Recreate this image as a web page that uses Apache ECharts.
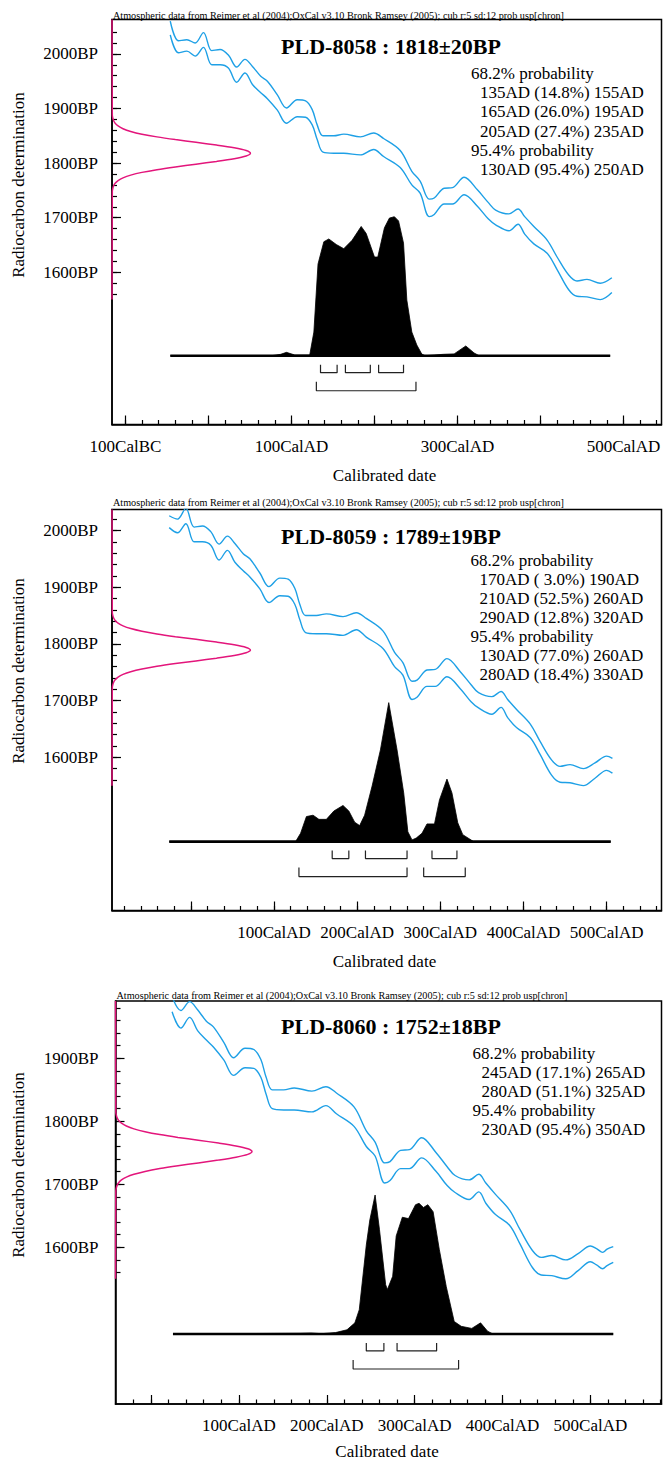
<!DOCTYPE html>
<html><head><meta charset="utf-8">
<script src="https://cdn.jsdelivr.net/npm/echarts@6/dist/echarts.min.js"></script>
<style>html,body{margin:0;padding:0;background:#fff}#c{width:664px;height:1461px}</style>
</head><body><div id="c"></div>
<script>
// ---------------- DATA ----------------
const headerText = 'Atmospheric data from Reimer et al (2004);OxCal v3.10 Bronk Ramsey (2005); cub r:5 sd:12 prob usp[chron]';

// calibration curve (IntCal04, +/- 1 sigma), calendar year AD (negative = BC), BP
const calYears = [-46,-36,-26,-16,-6,4,14,24,34,44,53,63,71,83,94,107,117,125,131,138,151,163,183,199,211,231,245,255,266,272,284,294,308,324,337,346,362,373,381,392,408,420,434,444,456,472,486,500,507,514,519,526];
const calUpper = [2060,2024,2026,2020,2039,2006,2008,1998,1976,1990,1977,1959,1950,1925,1901,1916,1914,1898,1870,1850,1850,1853,1848,1855,1845,1823,1785,1767,1734,1736,1754,1755,1774,1751,1728,1714,1707,1716,1702,1684,1659,1628,1595,1584,1587,1580,1590,1602,1598,1592,1597,1601];
const calLower = [2035,2002,2005,1996,2012,1980,1980,1974,1948,1965,1944,1929,1918,1897,1873,1885,1884,1870,1843,1820,1818,1818,1815,1825,1812,1792,1760,1745,1702,1706,1725,1725,1742,1721,1698,1687,1676,1688,1670,1652,1635,1605,1568,1556,1555,1550,1563,1577,1572,1566,1571,1576];

// normal-curve profile heights (relative) used for the radiocarbon determinations
const gaussHeights = [0.0022,0.0051,0.0111,0.0228,0.0439,0.0796,0.1353,0.2163,0.3247,0.4578,0.6065,0.7548,0.8825,0.9692,1,0.9692,0.8825,0.7548,0.6065,0.4578,0.3247,0.2163,0.1353,0.0796,0.0439,0.0228,0.0111,0.0051,0.0022];

// ---- PLD-8058
const p1Title = 'PLD-8058 : 1818±20BP';
const p1GaussBP = [1748,1753,1758,1763,1768,1773,1778,1783,1788,1793,1798,1803,1808,1813,1818,1823,1828,1833,1838,1843,1848,1853,1858,1863,1868,1873,1878,1883,1888];
const p1DistYears = [-46,76,87,94,104,122,127,132,139,145,154,163,173,184,190,200,204,212,218,224,229,235,239,245,251,257,261,283,296,310,320,326,484];
const p1DistProb  = [0,0,0.01,0.024,0.005,0.005,0.17,0.66,0.82,0.84,0.80,0.77,0.83,0.93,0.88,0.71,0.71,0.92,0.99,1.0,0.97,0.81,0.40,0.17,0.077,0.012,0,0.01,0.013,0.07,0.02,0,0];
const p1Ranges68 = [[135,155],[165,195],[205,235]];
const p1Ranges95 = [[130,250]];
const p1Lines = ['68.2% probability','135AD (14.8%) 155AD','165AD (26.0%) 195AD','205AD (27.4%) 235AD','95.4% probability','130AD (95.4%) 250AD'];
const p1XLabelValues = [-100,100,300,500];
const p1XLabels = ['100CalBC','100CalAD','300CalAD','500CalAD'];
const p1YLabelValues = [1600,1700,1800,1900,2000];
const p1YLabels = ['1600BP','1700BP','1800BP','1900BP','2000BP'];

// ---- PLD-8059
const p2Title = 'PLD-8059 : 1789±19BP';
const p2GaussBP = [1722.5,1727.25,1732,1736.75,1741.5,1746.25,1751,1755.75,1760.5,1765.25,1770,1774.75,1779.5,1784.25,1789,1793.75,1798.5,1803.25,1808,1812.75,1817.5,1822.25,1827,1831.75,1836.5,1841.25,1846,1850.75,1855.5];
const p2DistYears = [-26,126,132,139,147,154,163,172,183,190,197,203,209,218,228,238,248,256,261,266,271,278,284,293,299,308,314,321,327,340,505];
const p2DistProb  = [0,0,0.06,0.18,0.19,0.16,0.16,0.22,0.26,0.22,0.14,0.115,0.19,0.40,0.66,1.0,0.66,0.35,0.07,0.012,0.025,0.06,0.127,0.127,0.30,0.45,0.35,0.135,0.05,0,0];
const p2Ranges68 = [[170,190],[210,260],[290,320]];
const p2Ranges95 = [[130,260],[280,330]];
const p2Lines = ['68.2% probability','170AD ( 3.0%) 190AD','210AD (52.5%) 260AD','290AD (12.8%) 320AD','95.4% probability','130AD (77.0%) 260AD','280AD (18.4%) 330AD'];
const p2XLabelValues = [100,200,300,400,500];
const p2XLabels = ['100CalAD','200CalAD','300CalAD','400CalAD','500CalAD'];
const p2YLabelValues = [1600,1700,1800,1900,2000];
const p2YLabels = ['1600BP','1700BP','1800BP','1900BP','2000BP'];

// ---- PLD-8060
const p3Title = 'PLD-8060 : 1752±18BP';
const p3GaussBP = [1689,1693.5,1698,1702.5,1707,1711.5,1716,1720.5,1725,1729.5,1734,1738.5,1743,1747.5,1752,1756.5,1761,1765.5,1770,1774.5,1779,1783.5,1788,1792.5,1797,1801.5,1806,1810.5,1815];
const p3DistYears = [25,170,182,194,210,223,232,237,245,249,255,260,267,269,275,279,286,293,301,305,310,315,321,328,336,345,353,365,375,383,389,526];
const p3DistProb  = [0,0.005,0.007,0.002,0.01,0.03,0.08,0.175,0.64,0.82,1.0,0.75,0.355,0.32,0.415,0.705,0.84,0.83,0.93,0.94,0.91,0.93,0.88,0.61,0.34,0.09,0.055,0.04,0.08,0.02,0,0];
const p3Ranges68 = [[245,265],[280,325]];
const p3Ranges95 = [[230,350]];
const p3Lines = ['68.2% probability','245AD (17.1%) 265AD','280AD (51.1%) 325AD','95.4% probability','230AD (95.4%) 350AD'];
const p3XLabelValues = [100,200,300,400,500];
const p3XLabels = ['100CalAD','200CalAD','300CalAD','400CalAD','500CalAD'];
const p3YLabelValues = [1600,1700,1800,1900];
const p3YLabels = ['1600BP','1700BP','1800BP','1900BP'];

// ---------------- LAYOUT / STYLE ----------------
const FONT = '"Liberation Serif", "Times New Roman", serif';
const BLUE = '#1ea0e6';
const MAGENTA = '#e3157b';

const panels = [
  {title:p1Title, gauss:p1GaussBP, dy:p1DistYears, dp:p1DistProb, r68:p1Ranges68, r95:p1Ranges95, lines:p1Lines,
   xlv:p1XLabelValues, xl:p1XLabels, ylv:p1YLabelValues, yl:p1YLabels,
   left:112, top:19.5, right:661.5, bottom:424.5, xMin:-116.2, xMax:545.8, bpMin:1321.2, bpMax:2063,
   probMin:-0.495, probMax:2.419, gMax:3.97, xTickFrom:-100, xTickTo:540, yTickFrom:1560, yTickTo:2040,
   headerY:15, titleY:46.7, textX:471, textY:73.3, textDy:19.3, yTitleY:185, xTitleX:384.5, xTitleY:475, yLabMargin:14},
  {title:p2Title, gauss:p2GaussBP, dy:p2DistYears, dp:p2DistProb, r68:p2Ranges68, r95:p2Ranges95, lines:p2Lines,
   xlv:p2XLabelValues, xl:p2XLabels, ylv:p2YLabelValues, yl:p2YLabels,
   left:112, top:509.5, right:661.5, bottom:910.5, xMin:-94.8, xMax:566, bpMin:1329.8, bpMax:2037,
   probMin:-0.496, probMax:2.39, gMax:3.97, xTickFrom:-80, xTickTo:560, yTickFrom:1560, yTickTo:2020,
   headerY:502.7, titleY:536.7, textX:470.5, textY:560.7, textDy:19, yTitleY:671, xTitleX:384.5, xTitleY:961.7, yLabMargin:14},
  {title:p3Title, gauss:p3GaussBP, dy:p3DistYears, dp:p3DistProb, r68:p3Ranges68, r95:p3Ranges95, lines:p3Lines,
   xlv:p3XLabelValues, xl:p3XLabels, ylv:p3YLabelValues, yl:p3YLabels,
   left:115.5, top:1001, right:661.5, bottom:1404, xMin:-40.4, xMax:580.9, bpMin:1351.3, bpMax:1991,
   probMin:-0.504, probMax:2.396, gMax:4.0, xTickFrom:-20, xTickTo:580, yTickFrom:1560, yTickTo:1980,
   headerY:995, titleY:1026.7, textX:472.5, textY:1053.3, textDy:19, yTitleY:1165, xTitleX:387, xTitleY:1451.5, yLabMargin:17}
];
const BR68 = [-0.065,-0.122], BR95 = [-0.187,-0.252];

function range(a,b,s){const r=[];for(let v=a;v<=b+1e-9;v+=s)r.push(v);return r;}

const grid=[], xAxis=[], yAxis=[], series=[], graphic=[];
panels.forEach((P,i)=>{
  grid.push({left:P.left, top:P.top, width:P.right-P.left, height:P.bottom-P.top, show:true,
    borderColor:'#000', borderWidth:1.5, backgroundColor:'rgba(0,0,0,0)'});
  const xMaj = range(P.xTickFrom,P.xTickTo,20).filter(v=>v%100===0);
  const xMin = range(P.xTickFrom,P.xTickTo,20);
  const yMaj = range(P.yTickFrom,P.yTickTo,20).filter(v=>v%100===0);
  const yMin = range(P.yTickFrom,P.yTickTo,20);
  const xlMap = {}; P.xlv.forEach((v,k)=>xlMap[v]=P.xl[k]);
  const ylMap = {}; P.ylv.forEach((v,k)=>ylMap[v]=P.yl[k]);
  // x axes: 3i main, 3i+1 minor ticks, 3i+2 gaussian
  xAxis.push({type:'value', gridIndex:i, position:'bottom', min:P.xMin, max:P.xMax,
    axisLine:{show:true, onZero:false, lineStyle:{color:'#000', width:1.5}},
    axisTick:{show:true, inside:true, length:9, customValues:xMaj, lineStyle:{color:'#000', width:1.2}},
    axisLabel:{show:true, customValues:P.xlv, formatter:v=>xlMap[v]||'', margin:13,
      fontFamily:FONT, fontSize:17, color:'#000'},
    splitLine:{show:false}});
  xAxis.push({type:'value', gridIndex:i, position:'bottom', min:P.xMin, max:P.xMax,
    axisLine:{show:false, onZero:false},
    axisTick:{show:true, inside:true, length:4.5, customValues:xMin, lineStyle:{color:'#000', width:1.2}},
    axisLabel:{show:false}, splitLine:{show:false}});
  xAxis.push({type:'value', gridIndex:i, show:false, min:0, max:P.gMax, splitLine:{show:false}});
  // y axes: 3i BP main, 3i+1 minor ticks, 3i+2 probability
  yAxis.push({type:'value', gridIndex:i, position:'left', min:P.bpMin, max:P.bpMax,
    axisLine:{show:true, onZero:false, lineStyle:{color:'#000', width:1.5}},
    axisTick:{show:true, inside:true, length:9, customValues:yMaj, lineStyle:{color:'#000', width:1.2}},
    axisLabel:{show:true, customValues:P.ylv, formatter:v=>ylMap[v]||'', margin:P.yLabMargin,
      fontFamily:FONT, fontSize:17, color:'#000'},
    splitLine:{show:false}});
  yAxis.push({type:'value', gridIndex:i, position:'left', min:P.bpMin, max:P.bpMax,
    axisLine:{show:false, onZero:false},
    axisTick:{show:true, inside:true, length:5, customValues:yMin, lineStyle:{color:'#000', width:1.2}},
    axisLabel:{show:false}, splitLine:{show:false}});
  yAxis.push({type:'value', gridIndex:i, show:false, min:P.probMin, max:P.probMax, splitLine:{show:false}});

  const xa=3*i, ya=3*i;
  const yStart = P.dy[0], yEnd = P.dy[P.dy.length-1];
  const calIdx = calYears.map((y,k)=>k).filter(k=>calYears[k]>=yStart-2 && calYears[k]<=yEnd+2);
  const common = {type:'line', symbol:'none', silent:true, animation:false};
  series.push(Object.assign({}, common, {name:'cal upper '+i, xAxisIndex:xa, yAxisIndex:ya, smooth:0.35,
    data:calIdx.map(k=>[calYears[k],calUpper[k]]), lineStyle:{color:BLUE, width:1.4}, z:3}));
  series.push(Object.assign({}, common, {name:'cal lower '+i, xAxisIndex:xa, yAxisIndex:ya, smooth:0.35,
    data:calIdx.map(k=>[calYears[k],calLower[k]]), lineStyle:{color:BLUE, width:1.4}, z:3}));
  // radiocarbon determination (normal curve) on the BP axis
  const gData = [[0,1550]].concat(P.gauss.map((bp,k)=>[gaussHeights[k],bp])).concat([[0,P.bpMax]]);
  series.push(Object.assign({}, common, {name:'date '+i, xAxisIndex:xa+2, yAxisIndex:ya, smooth:0.3,
    data:gData, lineStyle:{color:MAGENTA, width:1.5}, z:5}));
  // calibrated distribution
  series.push(Object.assign({}, common, {name:'dist '+i, xAxisIndex:xa, yAxisIndex:ya+2,
    data:P.dy.map((y,k)=>[y,P.dp[k]]), lineStyle:{color:'#000', width:0.8},
    areaStyle:{color:'#000', opacity:1, origin:0}, z:4}));
  series.push(Object.assign({}, common, {name:'base '+i, xAxisIndex:xa, yAxisIndex:ya+2,
    data:[[yStart,0],[yEnd,0]], lineStyle:{color:'#000', width:2.6}, z:4}));
  // ranges
  [[P.r68,BR68],[P.r95,BR95]].forEach(([rs,br])=>{
    rs.forEach(r=>{
      series.push(Object.assign({}, common, {name:'range', xAxisIndex:xa, yAxisIndex:ya+2,
        data:[[r[0],br[0]],[r[0],br[1]],[r[1],br[1]],[r[1],br[0]]], lineStyle:{color:'#222', width:1.2}, z:4}));
    });
  });

  // texts
  graphic.push({type:'text', x:P.left+1, y:P.headerY, silent:true,
    style:{text:headerText, font:'10.2px '+FONT, fill:'#000', textAlign:'left', textVerticalAlign:'middle'}});
  graphic.push({type:'text', x:391, y:P.titleY, silent:true,
    style:{text:P.title, font:'bold 22px '+FONT, fill:'#000', textAlign:'center', textVerticalAlign:'middle'}});
  P.lines.forEach((t,k)=>{
    const hdr = /probability/.test(t);
    graphic.push({type:'text', x:P.textX + (hdr?0:9), y:P.textY + k*P.textDy, silent:true,
      style:{text:t, font:'17px '+FONT, fill:'#000', textAlign:'left', textVerticalAlign:'middle'}});
  });
  graphic.push({type:'text', x:18, y:P.yTitleY, rotation:Math.PI/2, silent:true,
    style:{text:'Radiocarbon determination', font:'17px '+FONT, fill:'#000', textAlign:'center', textVerticalAlign:'middle'}});
  graphic.push({type:'text', x:P.xTitleX, y:P.xTitleY, silent:true,
    style:{text:'Calibrated date', font:'17px '+FONT, fill:'#000', textAlign:'center', textVerticalAlign:'middle'}});
});

const chart = echarts.init(document.getElementById('c'), null, {renderer:'svg', width:664, height:1461});
chart.setOption({animation:false, backgroundColor:'#fff', grid, xAxis, yAxis, series, graphic});
</script></body></html>
